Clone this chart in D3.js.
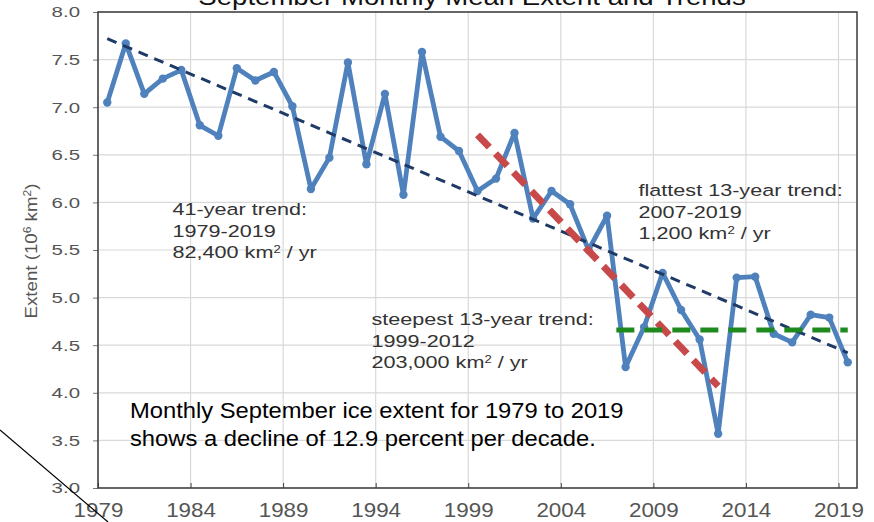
<!DOCTYPE html>
<html>
<head>
<meta charset="utf-8">
<script src="https://cdn.jsdelivr.net/npm/d3@7"></script>
<style>
  html, body { margin: 0; padding: 0; background: #fff; }
  svg { display: block; font-family: "Liberation Sans", Arial, Helvetica, sans-serif; }
</style>
</head>
<body>
<svg id="chart" width="874" height="522"></svg>
<script>
// September mean Arctic sea ice extent, million km²
const years = d3.range(1979, 2020);
const extent = [7.05, 7.67, 7.14, 7.30, 7.39, 6.81, 6.70, 7.41, 7.28, 7.37,
                7.01, 6.14, 6.47, 7.47, 6.40, 7.14, 6.08, 7.58, 6.69, 6.54,
                6.12, 6.25, 6.73, 5.83, 6.12, 5.98, 5.50, 5.86, 4.27, 4.69,
                5.26, 4.87, 4.56, 3.57, 5.21, 5.22, 4.62, 4.53, 4.82, 4.79, 4.32];

// Trend lines: [start year, end year, start value, end value]
const trend41 = [1979.5, 2019.5, 7.72, 4.42];
const trendSteep = [1999.5, 2012.5, 6.71, 4.07];
const trendFlat = [2007.0, 2019.5, 4.66, 4.66];

const xTicks = [1979, 1984, 1989, 1994, 1999, 2004, 2009, 2014, 2019];
const yTicks = [3.0, 3.5, 4.0, 4.5, 5.0, 5.5, 6.0, 6.5, 7.0, 7.5, 8.0];

const svg = d3.select("#chart");
const plotL = 98, plotR = 857, plotT = 12, plotB = 488;

const x = d3.scaleLinear().domain([1979, 2020]).range([plotL, plotR]);
const y = d3.scaleLinear().domain([3, 8]).range([plotB, plotT]);

// gridlines
const grid = svg.append("g");
grid.selectAll("line.h").data(yTicks).join("line").attr("class", "h")
  .attr("x1", plotL).attr("x2", plotR)
  .attr("y1", d => y(d)).attr("y2", d => y(d))
  .attr("stroke", "#d9d9d9").attr("stroke-width", 1.2);
grid.selectAll("line.v").data(xTicks).join("line").attr("class", "v")
  .attr("x1", d => x(d)).attr("x2", d => x(d))
  .attr("y1", plotT).attr("y2", plotB)
  .attr("stroke", "#d9d9d9").attr("stroke-width", 1.2);

// y axis: outward ticks, labels set in a wide Helvetica-like face
const yAxis = d3.axisLeft(y).tickValues(yTicks).tickFormat(d3.format(".1f")).tickSize(5);
const gy = svg.append("g").attr("transform", `translate(${plotL},0)`).call(yAxis);
gy.select(".domain").remove();
gy.selectAll(".tick line").attr("stroke", "#777");
gy.selectAll(".tick text")
  .attr("x", 0).attr("dy", "0.32em")
  .attr("transform", "translate(-18,0) scale(1.32,1)")
  .attr("fill", "#555").style("font-size", "15.5px")
  .style("font-family", "Liberation Sans, Arial, sans-serif");

// x axis: short inward ticks
const xAxis = d3.axisBottom(x).tickValues(xTicks).tickFormat(d3.format("d")).tickSize(-5);
const gx = svg.append("g").attr("transform", `translate(0,${plotB})`).call(xAxis);
gx.select(".domain").remove();
gx.selectAll(".tick line").attr("stroke", "#444");
gx.selectAll(".tick text")
  .attr("y", 0).attr("dy", 0)
  .attr("transform", "translate(0,29) scale(1.12,1)")
  .attr("fill", "#555").style("font-size", "20px")
  .style("font-family", "Liberation Sans, Arial, sans-serif");

// frame
svg.append("rect").attr("x", plotL).attr("y", plotT)
  .attr("width", plotR - plotL).attr("height", plotB - plotT)
  .attr("fill", "none").attr("stroke", "#3a3a3a").attr("stroke-width", 1.5);

// title
svg.append("text").attr("transform", "translate(472,5) scale(1.2,1)")
  .attr("text-anchor", "middle")
  .style("font-size", "23px").attr("fill", "#111")
  .text("September Monthly Mean Extent and Trends");

// y axis title
svg.append("text").attr("transform", "translate(37,251) rotate(-90) scale(1.1,1)")
  .attr("text-anchor", "middle").attr("fill", "#555").style("font-size", "17px")
  .html('Extent (10<tspan baseline-shift="super" font-size="11px">6</tspan> km<tspan baseline-shift="super" font-size="11px">2</tspan>)');

// series line
const pts = years.map((yr, i) => [yr + 0.5, extent[i]]);
const line = d3.line().x(d => x(d[0])).y(d => y(d[1]));
svg.append("path").datum(pts).attr("d", line)
  .attr("fill", "none").attr("stroke", "#4f81bd").attr("stroke-width", 4.8)
  .attr("stroke-linejoin", "round");
svg.selectAll("circle.pt").data(pts).join("circle").attr("class", "pt")
  .attr("cx", d => x(d[0])).attr("cy", d => y(d[1])).attr("r", 4.2)
  .attr("fill", "#4f81bd");

// trend lines
function trend(t, color, width, dash) {
  svg.append("line")
    .attr("x1", x(t[0])).attr("y1", y(t[2]))
    .attr("x2", x(t[1])).attr("y2", y(t[3]))
    .attr("stroke", color).attr("stroke-width", width)
    .attr("stroke-dasharray", dash);
}
trend(trend41, "#1f3a66", 3, "10 7");
trend(trendSteep, "#c8494a", 7, "17 9");
trend(trendFlat, "#1e8a1e", 5, "18 10");

// annotations
function block(x0, y0, lines, size, color, lh, sx) {
  const t = svg.append("text")
    .attr("transform", `translate(${x0},${y0}) scale(${sx},1)`)
    .attr("fill", color).style("font-size", size + "px");
  lines.forEach((s, i) => {
    t.append("tspan").attr("x", 0).attr("y", i * lh).html(s);
  });
}
const sup2 = '<tspan baseline-shift="super" font-size="10px">2</tspan>';
block(172.5, 215, ["41-year trend:", "1979-2019", `82,400 km${sup2} / yr`], 16.5, "#333", 21.6, 1.31);
block(638.5, 196, ["flattest 13-year trend:", "2007-2019", `1,200 km${sup2} / yr`], 16.5, "#333", 21.6, 1.31);
block(371.5, 325, ["steepest 13-year trend:", "1999-2012", `203,000 km${sup2} / yr`], 16.5, "#333", 21.6, 1.31);
block(130, 418, ["Monthly September ice extent for 1979 to 2019",
                 "shows a decline of 12.9 percent per decade."], 22, "#000", 28, 1.08);

// stray pen stroke across the lower-left corner
svg.append("line").attr("x1", 0).attr("y1", 430).attr("x2", 108).attr("y2", 522)
  .attr("stroke", "#000").attr("stroke-width", 1.2);
</script>
</body>
</html>
